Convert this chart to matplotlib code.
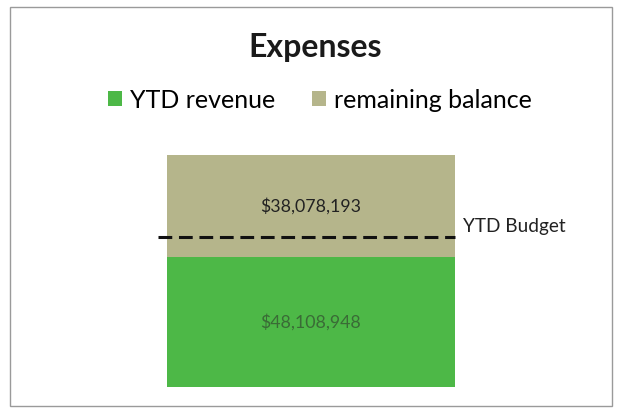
import matplotlib
matplotlib.use('Agg')
import matplotlib.pyplot as plt
from matplotlib.patches import Rectangle

plt.rcParams['font.family'] = ['Lato', 'DejaVu Sans']

# data
series = ['YTD revenue', 'remaining balance']
values = [48108948, 38078193]
colors = ['#4db847', '#b5b58b']
budget = 55700000
budget_label = 'YTD Budget'
title = 'Expenses'

fig = plt.figure(figsize=(6.18, 4.11), dpi=100)
fig.patches.append(Rectangle((10 / 618, 1 - 406 / 411), 602 / 618, 399 / 411,
                             transform=fig.transFigure, fill=False,
                             edgecolor='#9a9a9a', linewidth=1.0))

ax = fig.add_axes([167 / 618, 1 - 387 / 411, 288 / 618, 232 / 411])
bottom = 0
handles = []
for name, v, c in zip(series, values, colors):
    b = ax.bar([0], [v], bottom=bottom, width=1.0, color=c, label=name)
    ax.bar_label(b, labels=[f'${v:,.0f}'], label_type='center',
                 fontsize=12.8, color='#222222' if name != 'YTD revenue' else '#3a6b36')
    handles.append(b)
    bottom += v

ax.set_xlim(-0.5, 0.5)
ax.set_ylim(0, sum(values))
ax.axis('off')

ax.plot([-0.532, 0.5], [budget, budget], color='#111111', linestyle=(0, (4.5, 2.2)),
        linewidth=2.2, clip_on=False)
ax.annotate(budget_label, xy=(463 / 618, 1 - 226 / 411), xycoords='figure fraction',
            fontsize=13.7, color='#222222', va='center', ha='left')

fig.text(315 / 618, 1 - 47 / 411, title, fontsize=23, fontweight='bold',
         ha='center', va='center', color='#1a1a1a')
fig.legend(handles=handles, labels=series, loc='center', ncol=2,
           bbox_to_anchor=(320 / 618, 1 - 100 / 411), frameon=False,
           fontsize=18, handlelength=0.55, handleheight=0.55, handletextpad=0.3,
           columnspacing=1.5)

fig.savefig('out.png', dpi=100)
